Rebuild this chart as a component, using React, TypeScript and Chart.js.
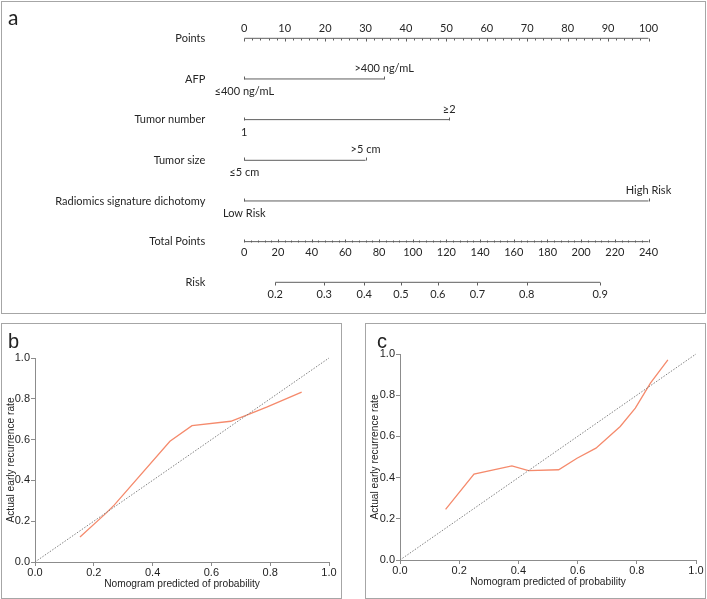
import React, { useEffect, useRef } from "react";
import { Chart, registerables } from "chart.js";

Chart.register(...registerables);

// ---------- Panel a: nomogram ----------
const rowLabels = [
  "Points",
  "AFP",
  "Tumor number",
  "Tumor size",
  "Radiomics signature dichotomy",
  "Total Points",
  "Risk",
];
const pointsTickLabels = [0, 10, 20, 30, 40, 50, 60, 70, 80, 90, 100];
const factorLowLabels = ["≤400 ng/mL", "1", "≤5 cm", "Low Risk"];
const factorHighLabels = [">400 ng/mL", "≥2", ">5 cm", "High Risk"];
const factorPoints = [34.6, 50.7, 30.0, 100];
const totalTickLabels = [0, 20, 40, 60, 80, 100, 120, 140, 160, 180, 200, 220, 240];
const riskLabels = ["0.2", "0.3", "0.4", "0.5", "0.6", "0.7", "0.8", "0.9"];
const riskTotalPoints = [18.4, 47.5, 71.2, 93.0, 114.9, 138.4, 167.7, 211.3];

// ---------- Panel b: calibration (training) ----------
const predB = [0.153, 0.24, 0.27, 0.459, 0.534, 0.666, 0.72, 0.79, 0.907];
const actualB = [0.123, 0.237, 0.28, 0.592, 0.668, 0.69, 0.72, 0.76, 0.833];

// ---------- Panel c: calibration (validation) ----------
const predC = [0.154, 0.25, 0.378, 0.434, 0.536, 0.598, 0.662, 0.744, 0.795, 0.846, 0.905];
const actualC = [0.246, 0.417, 0.457, 0.434, 0.438, 0.494, 0.543, 0.648, 0.737, 0.859, 0.972];

const diagonal = [0, 1];
const axisTicks = [0, 0.2, 0.4, 0.6, 0.8, 1.0];

const NOMO_FONT = "Lato, 'Open Sans', sans-serif";
const CAL_FONT = "'Liberation Sans', Arial, sans-serif";

const nomogramPlugin = {
  id: "nomogram",
  afterDatasetsDraw(chart: any) {
    const ctx = chart.ctx;
    const x = chart.scales.x;
    const xt = chart.scales.xt;
    const y = chart.scales.y;
    ctx.save();
    ctx.font = `11px ${NOMO_FONT}`;
    ctx.fillStyle = "#262626";
    ctx.strokeStyle = "#5e5e5e";
    ctx.lineWidth = 1;

    // row labels
    ctx.textAlign = "right";
    ctx.textBaseline = "middle";
    rowLabels.forEach((l, i) => {
      ctx.fillText(l, x.getPixelForValue(0) - 39, y.getPixelForValue(i));
    });

    const tick = (px: number, py: number, len: number) => {
      ctx.beginPath();
      ctx.moveTo(Math.round(px) + 0.5, py);
      ctx.lineTo(Math.round(px) + 0.5, py + len);
      ctx.stroke();
    };

    // Points axis (row 0)
    const y0 = Math.round(y.getPixelForValue(0)) + 0.5;
    for (let v = 0; v <= 100; v += 2) {
      tick(x.getPixelForValue(v), y0, v % 10 === 0 ? 3 : 2);
    }
    ctx.textAlign = "center";
    pointsTickLabels.forEach((v) => {
      ctx.fillText(String(v), x.getPixelForValue(v), y0 - 10.5);
    });

    // factor rows
    factorPoints.forEach((p, i) => {
      const ry = Math.round(y.getPixelForValue(i + 1)) + 0.5;
      tick(x.getPixelForValue(0), ry, -3);
      tick(x.getPixelForValue(p), ry, -3);
      ctx.fillText(factorHighLabels[i], x.getPixelForValue(p), ry - 11);
      ctx.fillText(factorLowLabels[i], x.getPixelForValue(0), ry + 11.5);
    });

    // Total points (row 5)
    const y5 = Math.round(y.getPixelForValue(5)) + 0.5;
    for (let v = 0; v <= 240; v += 4) {
      tick(xt.getPixelForValue(v), y5, v % 20 === 0 ? -3 : -2);
    }
    totalTickLabels.forEach((v) => {
      ctx.fillText(String(v), xt.getPixelForValue(v), y5 + 9.5);
    });

    // Risk (row 6)
    const y6 = Math.round(y.getPixelForValue(6)) + 0.5;
    riskTotalPoints.forEach((tp, i) => {
      tick(xt.getPixelForValue(tp), y6, 3);
      ctx.fillText(riskLabels[i], xt.getPixelForValue(tp), y6 + 11.5);
    });
    ctx.restore();
  },
};

function NomogramChart() {
  const ref = useRef<HTMLCanvasElement>(null);
  useEffect(() => {
    if (!ref.current) return;
    const lineStyle = {
      borderColor: "#5e5e5e",
      borderWidth: 1,
      pointRadius: 0,
      showLine: true,
      clip: false as any,
    };
    const datasets: any[] = [
      { ...lineStyle, xAxisID: "x", data: [{ x: 0, y: 0 }, { x: 100, y: 0 }] },
      ...factorPoints.map((p, i) => ({
        ...lineStyle,
        xAxisID: "x",
        data: [{ x: 0, y: i + 1 }, { x: p, y: i + 1 }],
      })),
      { ...lineStyle, xAxisID: "xt", data: [{ x: 0, y: 5 }, { x: 240, y: 5 }] },
      {
        ...lineStyle,
        xAxisID: "xt",
        data: [
          { x: riskTotalPoints[0], y: 6 },
          { x: riskTotalPoints[riskTotalPoints.length - 1], y: 6 },
        ],
      },
    ];
    const chart = new Chart(ref.current, {
      type: "scatter",
      data: { datasets },
      options: {
        animation: false,
        responsive: false,
        events: [],
        layout: { padding: { left: 242.3, right: 55.5, top: 36.3, bottom: 29.7 } },
        plugins: { legend: { display: false }, tooltip: { enabled: false } },
        scales: {
          x: { type: "linear", min: 0, max: 100, display: false },
          xt: { type: "linear", axis: "x", min: 0, max: 240, display: false },
          y: { type: "linear", min: 0, max: 6, reverse: true, display: false },
        },
      } as any,
      plugins: [nomogramPlugin],
    });
    return () => chart.destroy();
  }, []);
  return (
    <canvas
      ref={ref}
      width={702}
      height={310}
      style={{ position: "absolute", left: 2, top: 2, width: 702, height: 310 }}
    />
  );
}

function CalibrationChart(props: {
  pred: number[];
  actual: number[];
  left: number;
  padTop: number;
  padRight: number;
  yWidth: number;
  xHeight: number;
}) {
  const ref = useRef<HTMLCanvasElement>(null);
  const { pred, actual, left, padTop, padRight, yWidth, xHeight } = props;
  useEffect(() => {
    if (!ref.current) return;
    const tickFont = { family: CAL_FONT, size: 11 };
    const titleFont = { family: CAL_FONT, size: 10.2 };
    const axisColor = "#8c8c8c";
    const chart = new Chart(ref.current, {
      type: "scatter",
      data: {
        datasets: [
          {
            data: diagonal.map((v) => ({ x: v, y: v })),
            borderColor: "#808080",
            borderWidth: 1,
            borderDash: [1.5, 1.5],
            pointRadius: 0,
            showLine: true,
            clip: false,
          },
          {
            data: pred.map((p, i) => ({ x: p, y: actual[i] })),
            borderColor: "#f58a6c",
            borderWidth: 1.3,
            pointRadius: 0,
            showLine: true,
            clip: false,
          },
        ] as any,
      },
      options: {
        animation: false,
        responsive: false,
        events: [],
        layout: { padding: { top: padTop, right: padRight, left: 0, bottom: 0 } },
        plugins: { legend: { display: false }, tooltip: { enabled: false } },
        scales: {
          x: {
            type: "linear",
            min: 0,
            max: 1,
            afterBuildTicks: (s: any) => {
              s.ticks = axisTicks.map((v) => ({ value: v }));
            },
            afterFit: (s: any) => {
              s.height = xHeight;
            },
            ticks: {
              font: tickFont,
              color: "#1e1e1e",
              padding: 0,
              maxRotation: 0,
              autoSkip: false,
              callback: (v: any) => Number(v).toFixed(1),
            },
            grid: { drawOnChartArea: false, drawTicks: true, tickLength: 4, color: axisColor },
            border: { display: true, color: axisColor },
            title: {
              display: true,
              text: "Nomogram predicted of probability",
              font: titleFont,
              color: "#1e1e1e",
              padding: { top: 0, bottom: xHeight - 28 },
            },
          },
          y: {
            type: "linear",
            min: 0,
            max: 1,
            afterBuildTicks: (s: any) => {
              s.ticks = axisTicks.map((v) => ({ value: v }));
            },
            afterFit: (s: any) => {
              s.width = yWidth;
            },
            ticks: {
              font: tickFont,
              color: "#1e1e1e",
              padding: 1,
              autoSkip: false,
              callback: (v: any) => Number(v).toFixed(1),
            },
            grid: { drawOnChartArea: false, drawTicks: true, tickLength: 4, color: axisColor },
            border: { display: true, color: axisColor },
            title: {
              display: true,
              text: "Actual early recurrence rate",
              font: titleFont,
              color: "#1e1e1e",
              padding: { top: 3, bottom: 0 },
            },
          },
        },
      } as any,
    });
    return () => chart.destroy();
  }, []);
  return (
    <canvas
      ref={ref}
      width={338}
      height={273}
      style={{ position: "absolute", left, top: 324, width: 338, height: 273 }}
    />
  );
}

const boxStyle = (left: number, top: number, width: number, height: number): React.CSSProperties => ({
  position: "absolute",
  left,
  top,
  width,
  height,
  border: "1px solid #a6a6a6",
  boxSizing: "border-box",
});

export default function App() {
  return (
    <div
      style={{
        position: "fixed",
        left: 0,
        top: 0,
        width: 707,
        height: 599,
        background: "#ffffff",
        overflow: "hidden",
      }}
    >
      <div style={boxStyle(1, 1, 705, 313)} />
      <div style={boxStyle(1, 323, 341, 276)} />
      <div style={boxStyle(365, 323, 341, 276)} />
      <NomogramChart />
      <CalibrationChart
        pred={predB}
        actual={actualB}
        left={2}
        padTop={34}
        padRight={11}
        yWidth={33}
        xHeight={35}
      />
      <CalibrationChart
        pred={predC}
        actual={actualC}
        left={366}
        padTop={30}
        padRight={8}
        yWidth={34}
        xHeight={37}
      />
      <div
        style={{
          position: "absolute",
          left: 8,
          top: 4,
          font: `21px ${NOMO_FONT}`,
          lineHeight: "26px",
          color: "#222",
        }}
      >
        a
      </div>
      <div
        style={{
          position: "absolute",
          left: 8,
          top: 329,
          font: `20px ${CAL_FONT}`,
          lineHeight: "24px",
          color: "#222",
        }}
      >
        b
      </div>
      <div
        style={{
          position: "absolute",
          left: 377,
          top: 329,
          font: `20px ${CAL_FONT}`,
          lineHeight: "24px",
          color: "#222",
        }}
      >
        c
      </div>
    </div>
  );
}
